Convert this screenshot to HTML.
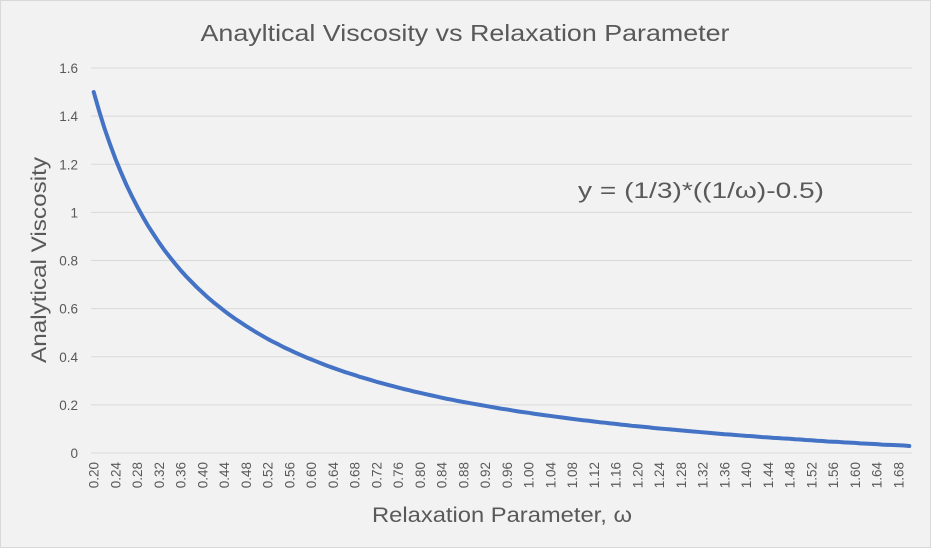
<!DOCTYPE html>
<html><head><meta charset="utf-8">
<style>
html,body{margin:0;padding:0;background:#f2f2f2;}
svg{display:block;font-family:"Liberation Sans",sans-serif;}
</style></head>
<body>
<svg id="chart" width="931" height="548" viewBox="0 0 931 548">
<rect x="0.5" y="0.5" width="930" height="547" fill="#f2f2f2" stroke="#d9d9d9"/>
<text x="465" y="41" text-anchor="middle" font-size="23" fill="#595959" textLength="529" lengthAdjust="spacingAndGlyphs">Anayltical Viscosity vs Relaxation Parameter</text>
<text x="578" y="198" font-size="22" fill="#595959" textLength="246" lengthAdjust="spacingAndGlyphs">y = (1/3)*((1/ω)-0.5)</text>
<text transform="translate(46,260) rotate(-90)" text-anchor="middle" font-size="21" fill="#595959" textLength="206" lengthAdjust="spacingAndGlyphs">Analytical Viscosity</text>
<text x="502" y="522" text-anchor="middle" font-size="21" fill="#595959" textLength="260" lengthAdjust="spacingAndGlyphs">Relaxation Parameter, ω</text>
<g id="grid"></g><g id="yticks"></g><g id="xticks"></g><g id="series"></g>
</svg>
<script>
var categories = [];
for (var k = 0; k <= 150; k++) categories.push((0.20 + k * 0.01).toFixed(2));
var viscosity = [1.500,1.421,1.348,1.283,1.222,1.167,1.115,1.068,1.024,0.983,0.944,0.909,0.875,0.843,0.814,0.786,0.759,0.734,0.711,0.688,
0.667,0.646,0.627,0.609,0.591,0.574,0.558,0.543,0.528,0.514,0.500,0.487,0.474,0.462,0.451,0.439,0.429,0.418,0.408,0.398,
0.389,0.380,0.371,0.362,0.354,0.346,0.338,0.331,0.324,0.316,0.310,0.303,0.296,0.290,0.284,0.278,0.272,0.266,0.261,0.255,
0.250,0.245,0.240,0.235,0.230,0.225,0.221,0.216,0.212,0.208,0.204,0.200,0.196,0.192,0.188,0.184,0.181,0.177,0.173,0.170,
0.167,0.163,0.160,0.157,0.154,0.151,0.148,0.145,0.142,0.139,0.136,0.134,0.131,0.128,0.126,0.123,0.121,0.118,0.116,0.113,
0.111,0.109,0.107,0.104,0.102,0.100,0.098,0.096,0.094,0.092,0.090,0.088,0.086,0.084,0.082,0.080,0.078,0.077,0.075,0.073,
0.071,0.070,0.068,0.066,0.065,0.063,0.062,0.060,0.059,0.057,0.056,0.054,0.053,0.051,0.050,0.048,0.047,0.046,0.044,0.043,
0.042,0.040,0.039,0.038,0.037,0.035,0.034,0.033,0.032,0.031,0.029];
var yTickValues = [0,0.2,0.4,0.6,0.8,1,1.2,1.4,1.6];
var yTickLabels = ["0","0.2","0.4","0.6","0.8","1","1.2","1.4","1.6"];

var NS = "http://www.w3.org/2000/svg";
var plotL = 91, plotR = 912, plotT = 68, plotB = 453, yMax = 1.6;
var band = (plotR - plotL) / categories.length;
function xPos(i){ return plotL + (i + 0.5) * band; }
function yPos(v){ return plotB - v / yMax * (plotB - plotT); }
function mk(tag, attrs, parent){ var e = document.createElementNS(NS, tag); for (var a in attrs) e.setAttribute(a, attrs[a]); parent.appendChild(e); return e; }

var grid = document.getElementById("grid"), yt = document.getElementById("yticks"), xt = document.getElementById("xticks"), sg = document.getElementById("series");
yTickValues.forEach(function(v, j){
  var y = yPos(v);
  var l = mk("line", {x1: plotL, x2: plotR, y1: y, y2: y, stroke: "#d9d9d9", "stroke-width": 1}, grid);
  
  
  var t = mk("text", {x: 78, y: y + 5, "text-anchor": "end", "font-size": 13.5, fill: "#595959"}, yt);
  t.textContent = yTickLabels[j];
  
  
});
categories.forEach(function(c, i){
  if (i % 4 !== 0) return;
  var x = xPos(i) + 5;
  var t = mk("text", {transform: "translate(" + x + ",462) rotate(-90)", "text-anchor": "end", "font-size": 13.5, fill: "#595959"}, xt);
  t.textContent = c;
  
  
});
var d = viscosity.map(function(v, i){ return (i ? "L" : "M") + xPos(i).toFixed(2) + "," + yPos(v).toFixed(2); }).join(" ");
var p = mk("path", {d: d, fill: "none", stroke: "#4472c4", "stroke-width": 4, "stroke-linejoin": "round", "stroke-linecap": "round"}, sg);


</script>
</body></html>
